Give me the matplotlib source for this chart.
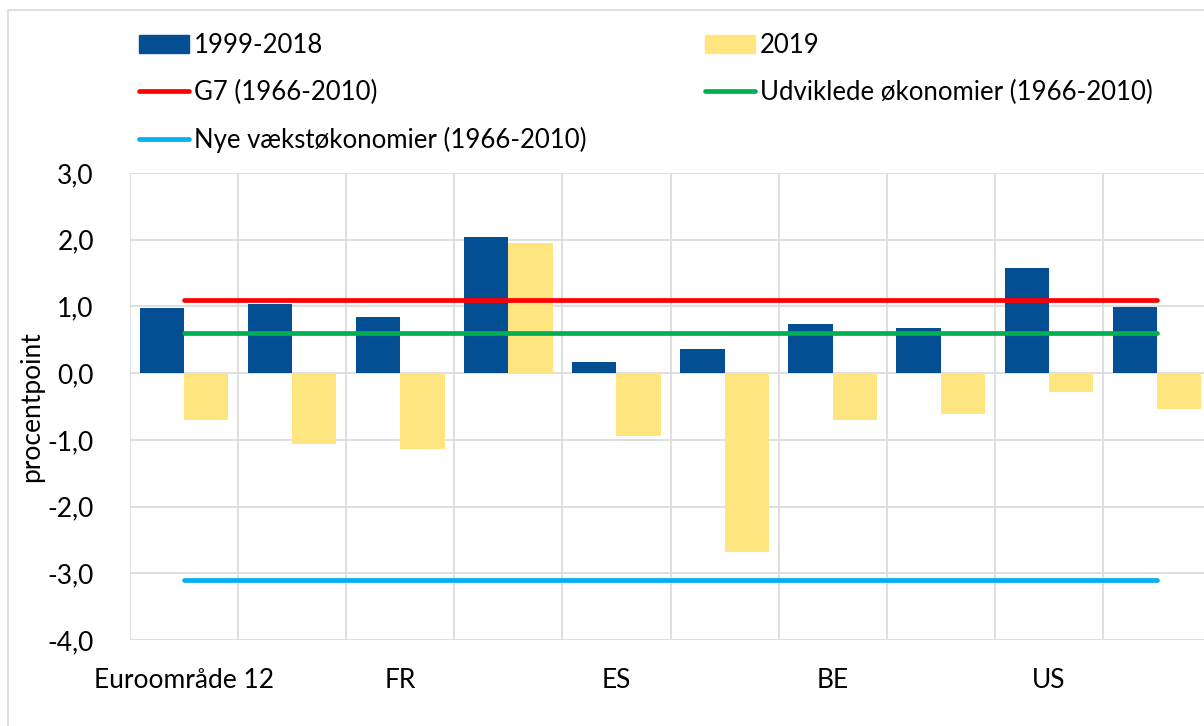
import numpy as np
import matplotlib
matplotlib.use("Agg")
import matplotlib.pyplot as plt
from matplotlib.patches import Rectangle, Patch
from matplotlib.lines import Line2D
from matplotlib.ticker import FuncFormatter, FixedLocator

plt.rcParams['font.family'] = ['Lato', 'DejaVu Sans']

# Data
tick_labels = ["Euroområde 12", "", "FR", "", "ES", "", "BE", "", "US", ""]
vals_1999_2018 = [0.97, 1.03, 0.84, 2.04, 0.17, 0.36, 0.73, 0.67, 1.57, 0.99]
vals_2019 = [-0.70, -1.06, -1.14, 1.95, -0.94, -2.68, -0.70, -0.61, -0.28, -0.54]
g7_level = 1.1
udviklede_level = 0.6
nye_level = -3.1

c_blue = "#044E93"
c_yellow = "#FFE57F"
c_red = "#FF0000"
c_green = "#00B050"
c_lblue = "#00B0F0"
c_grid = "#D9D9D9"
fs = 19
fs_leg = 18.5

fig = plt.figure(figsize=(12.04, 7.26), dpi=100)
W, H = 1204, 726
ax = fig.add_axes([130 / W, 1 - 640 / H, 1081 / W, 467 / H])

x = np.arange(len(tick_labels))
bw = 0.41
ax.bar(x - bw / 2, vals_1999_2018, width=bw, color=c_blue, zorder=2)
ax.bar(x + bw / 2, vals_2019, width=bw, color=c_yellow, zorder=2)

lw = 3.4
ax.plot([x[0], x[-1]], [g7_level] * 2, color=c_red, lw=lw, solid_capstyle='round', zorder=3)
ax.plot([x[0], x[-1]], [udviklede_level] * 2, color=c_green, lw=lw, solid_capstyle='round', zorder=3)
ax.plot([x[0], x[-1]], [nye_level] * 2, color=c_lblue, lw=lw, solid_capstyle='round', zorder=3)

ax.set_xlim(-0.5, len(tick_labels) - 0.5)
ax.set_ylim(-4, 3)
ax.set_yticks(np.arange(-4, 3.1, 1))
ax.yaxis.set_major_formatter(FuncFormatter(lambda v, p: f"{v:.1f}".replace(".", ",")))
ax.set_xticks(x)
ax.set_xticklabels(tick_labels)
ax.xaxis.set_minor_locator(FixedLocator(np.arange(-0.5, len(tick_labels), 1)))
ax.tick_params(axis='both', which='both', length=0, labelsize=fs)
ax.tick_params(axis='y', pad=26)
ax.tick_params(axis='x', pad=20)
ax.grid(axis='y', which='major', color=c_grid, lw=1.2, zorder=0)
ax.grid(axis='x', which='minor', color=c_grid, lw=1.2, zorder=0)
ax.grid(axis='x', which='major', visible=False)
ax.set_axisbelow(True)
for s in ax.spines.values():
    s.set_visible(False)

ax.set_ylabel("procentpoint", fontsize=fs)
ax.yaxis.set_label_coords(-0.079, 0.5)

# outer chart border
fig.patches.append(Rectangle((8 / W, -0.1), 1.2, 1 - 10 / H + 0.1, transform=fig.transFigure,
                             fill=False, edgecolor=c_grid, lw=1.2, clip_on=False))

leg_kw = dict(frameon=False, fontsize=fs_leg, borderpad=0, borderaxespad=0,
              handlelength=1.95, handletextpad=0.2, labelspacing=0.85, loc='upper left')
h1 = [Patch(color=c_blue), Line2D([], [], color=c_red, lw=lw, solid_capstyle='round'),
      Line2D([], [], color=c_lblue, lw=lw, solid_capstyle='round')]
l1 = ["1999-2018", "G7 (1966-2010)", "Nye vækstøkonomier (1966-2010)"]
h2 = [Patch(color=c_yellow), Line2D([], [], color=c_green, lw=lw, solid_capstyle='round')]
l2 = ["2019", "Udviklede økonomier (1966-2010)"]
fig.legend(h1, l1, bbox_to_anchor=(139 / W, 1 - 33 / H), **leg_kw)
fig.legend(h2, l2, bbox_to_anchor=(705 / W, 1 - 33 / H), **leg_kw)

fig.savefig("out.png", dpi=100)
